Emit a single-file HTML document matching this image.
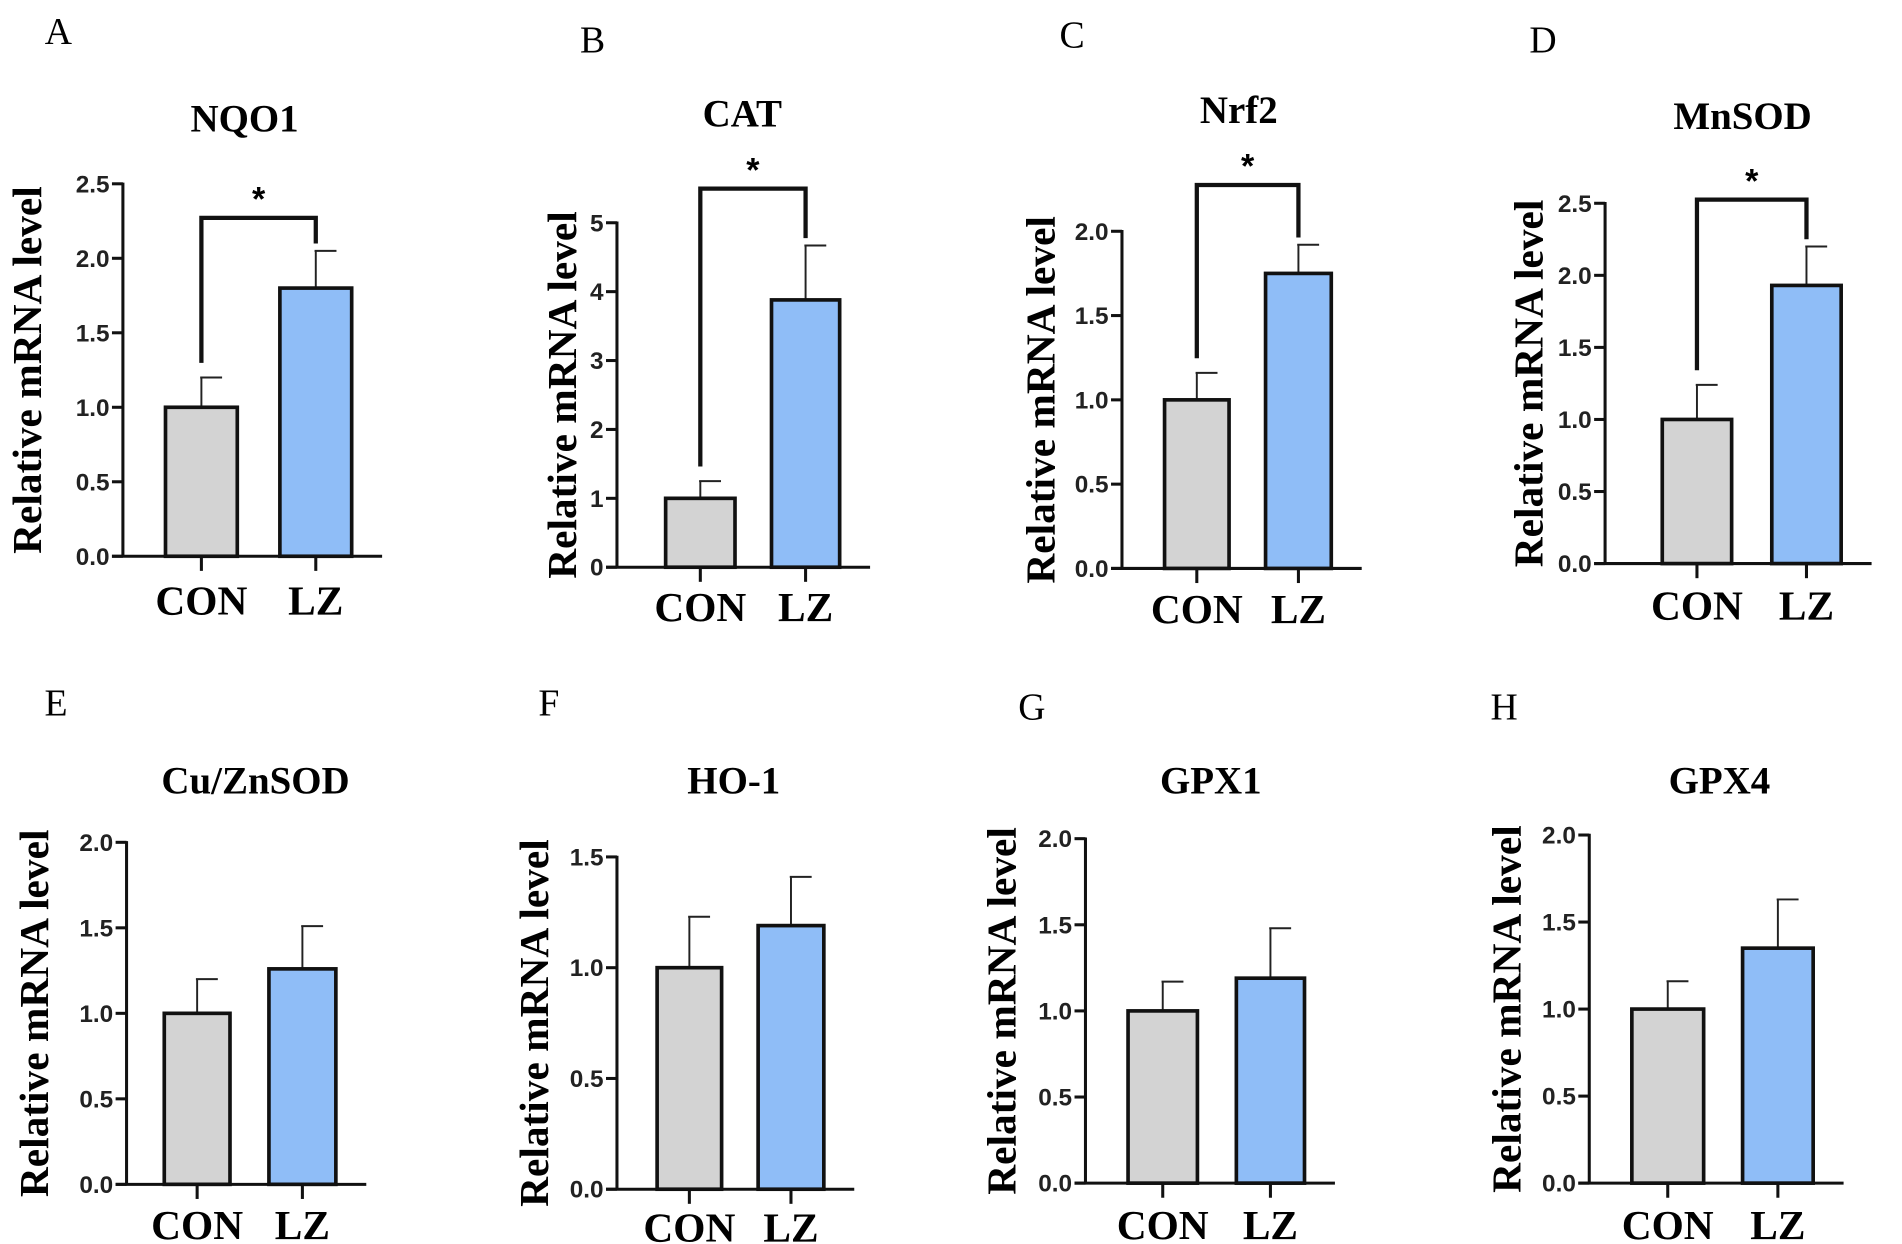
<!DOCTYPE html>
<html><head><meta charset="utf-8"><style>
html,body{margin:0;padding:0;background:#fff;}
svg{display:block;}
</style></head><body>
<svg id="fig" width="1902" height="1244" viewBox="0 0 1563 1022" preserveAspectRatio="none" xmlns="http://www.w3.org/2000/svg"></svg>
<script>
const genes=["NQO1","CAT","Nrf2","MnSOD","Cu/ZnSOD","HO-1","GPX1","GPX4"];
const letters=["A","B","C","D","E","F","G","H"];
const categories=["CON","LZ"];
const conValues=[1.0,1.0,1.0,1.0,1.0,1.0,1.0,1.0];
const conErrors=[0.2,0.25,0.16,0.24,0.2,0.23,0.17,0.16];
const lzValues=[1.8,3.88,1.75,1.93,1.26,1.19,1.19,1.35];
const lzErrors=[0.25,0.79,0.17,0.27,0.25,0.22,0.29,0.28];
const yMaxes=[2.5,5,2.0,2.5,2.0,1.5,2.0,2.0];
const tickSteps=[0.5,1,0.5,0.5,0.5,0.5,0.5,0.5];
const tickDecimals=[1,0,1,1,1,1,1,1];
const significant=[true,true,true,true,false,false,false,false];
// layout (not data)
const L=[
{ax:101,y0:457,yt:151,b1:[136,195],b2:[230,289],ti:[201,97],yl:22,xl:493,lt:[48,25],br:179},
{ax:507,y0:466,yt:183,b1:[547,604],b2:[634,690],ti:[610,93],yl:462,xl:498,lt:[487,32],br:155},
{ax:922,y0:467,yt:190,b1:[957,1010],b2:[1040,1094],ti:[1018,90],yl:855,xl:500,lt:[881,28],br:152},
{ax:1319,y0:463,yt:167,b1:[1366,1423],b2:[1456,1513],ti:[1432,95],yl:1256,xl:497,lt:[1268,32],br:164},
{ax:104,y0:973,yt:692,b1:[135,189],b2:[221,276],ti:[210,641],yl:28,xl:1006,lt:[46,577]},
{ax:507,y0:977,yt:704,b1:[540,593],b2:[623,677],ti:[603,641],yl:439,xl:1008,lt:[451,577]},
{ax:892,y0:972,yt:689,b1:[927,984],b2:[1016,1072],ti:[995,641],yl:823,xl:1006,lt:[848,580]},
{ax:1306,y0:972,yt:686,b1:[1341,1400],b2:[1432,1490],ti:[1413,641],yl:1238,xl:1006,lt:[1236,580]}];
const NS="http://www.w3.org/2000/svg";
const svg=document.getElementById('fig');
function mk(t,a,p){const e=document.createElementNS(NS,t);for(const k in a)e.setAttribute(k,a[k]);(p||svg).appendChild(e);return e;}
const SANS='"Liberation Sans", Arial, sans-serif', SERIF='"Liberation Serif", "Times New Roman", serif';
for(let i=0;i<8;i++){
 const c=L[i];
 const g=mk('g',{});
 
 
 const y=v=>c.y0-(v/yMaxes[i])*(c.y0-c.yt);
 const lt=mk('text',{x:c.lt[0],y:c.lt[1]+11,'font-family':SERIF,'font-size':31,'text-anchor':'middle'},g);lt.textContent=letters[i];
 
 
 const ti=mk('text',{x:c.ti[0],y:c.ti[1]+11,'font-family':SERIF,'font-size':32,'font-weight':'bold','text-anchor':'middle'},g);ti.textContent=genes[i];
 
 
 const yc=(c.y0+c.yt)/2;
 const yl=mk('text',{x:c.yl,y:yc,transform:`rotate(-90 ${c.yl} ${yc})`,'font-family':SERIF,'font-size':34,'font-weight':'bold','text-anchor':'middle','dominant-baseline':'central'},g);yl.textContent="Relative mRNA level";
 
 
 const bars=[[c.b1,conValues[i],conErrors[i],'#d3d3d3'],[c.b2,lzValues[i],lzErrors[i],'#8fbdf7']];
 bars.forEach((b,j)=>{
  const cx=(b[0][0]+b[0][1])/2;
  const el=mk('line',{x1:cx,x2:cx,y1:y(b[1]),y2:y(b[1]+b[2]),stroke:'#222','stroke-width':1.6},g);
  
  
  mk('line',{x1:cx-1,x2:cx+17,y1:y(b[1]+b[2]),y2:y(b[1]+b[2]),stroke:'#222','stroke-width':1.6},g);
  const r=mk('rect',{x:b[0][0],y:y(b[1]),width:b[0][1]-b[0][0],height:c.y0-y(b[1]),fill:b[3],stroke:'#111','stroke-width':3},g);
  
  
  mk('line',{x1:cx,x2:cx,y1:c.y0,y2:c.y0+12,stroke:'#111','stroke-width':2.5},g);
  const xl=mk('text',{x:cx,y:c.xl+12,'font-family':SERIF,'font-size':34,'font-weight':'bold','text-anchor':'middle'},g);xl.textContent=categories[j];
  
  
 });
 const ya=mk('line',{x1:c.ax,x2:c.ax,y1:c.yt-1,y2:c.y0,stroke:'#111','stroke-width':2.5},g);
 
 
 const xa=mk('line',{x1:c.ax-9,x2:c.b2[1]+25,y1:c.y0,y2:c.y0,stroke:'#111','stroke-width':2.5},g);
 
 
 for(let v=0;v<=yMaxes[i]+1e-9;v+=tickSteps[i]){
  mk('line',{x1:c.ax-9,x2:c.ax,y1:y(v),y2:y(v),stroke:'#111','stroke-width':2.5},g);
  const t=mk('text',{x:c.ax-11,y:y(v)+7,'font-family':SANS,'font-size':20,'font-weight':'bold','text-anchor':'end',fill:'#222'},g);t.textContent=v.toFixed(tickDecimals[i]);
  
  
 }
 if(significant[i]){
  const x1=(c.b1[0]+c.b1[1])/2,x2=(c.b2[0]+c.b2[1])/2;
  const top=c.br;
  const p=mk('path',{d:`M${x1} ${y(conValues[i]+conErrors[i])-12} V${top} H${x2} V${y(lzValues[i]+lzErrors[i])-6}`,fill:'none',stroke:'#111','stroke-width':3.5},g);
  
  
  const s=mk('text',{x:(x1+x2)/2,y:top-6,'font-family':SANS,'font-size':28,'font-weight':'bold','text-anchor':'middle'},g);s.textContent='*';
  
  
 }
}
</script>
</body></html>
